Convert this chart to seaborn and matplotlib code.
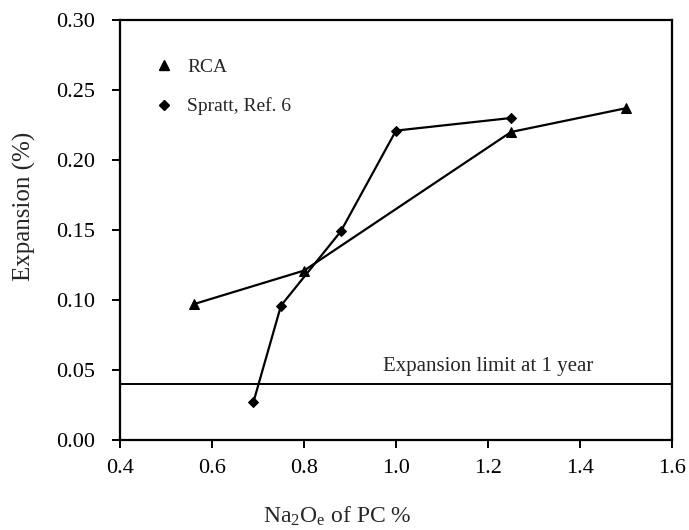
import matplotlib
matplotlib.use("Agg")
import matplotlib.pyplot as plt
from matplotlib.lines import Line2D
import seaborn as sns
import pandas as pd

# RCA series
rca_na2o = [0.56, 0.80, 1.25, 1.50]
rca_expansion = [0.097, 0.121, 0.220, 0.237]

# Spratt, Ref. 6 series
spratt_na2o = [0.69, 0.75, 0.88, 1.00, 1.25]
spratt_expansion = [0.027, 0.096, 0.149, 0.221, 0.230]

expansion_limit = 0.04
x_ticks = [0.4, 0.6, 0.8, 1.0, 1.2, 1.4, 1.6]
y_ticks = [0.00, 0.05, 0.10, 0.15, 0.20, 0.25, 0.30]

sns.set_theme(style="ticks")
plt.rcParams["font.family"] = ["Liberation Serif", "DejaVu Serif"]
plt.rcParams["mathtext.fontset"] = "custom"
plt.rcParams["mathtext.rm"] = "Liberation Serif"
plt.rcParams["mathtext.it"] = "Liberation Serif"

rca = pd.DataFrame({"x": rca_na2o, "y": rca_expansion})
spratt = pd.DataFrame({"x": spratt_na2o, "y": spratt_expansion})

fig = plt.figure(figsize=(6.89, 5.30), dpi=100)
ax = fig.add_axes([120 / 689, 90 / 530, 552 / 689, 420 / 530])

sns.lineplot(data=rca, x="x", y="y", ax=ax, color="black", linewidth=1.6,
             marker="^", markersize=7, markeredgecolor="black")
sns.lineplot(data=spratt, x="x", y="y", ax=ax, color="black", linewidth=1.6,
             marker="D", markersize=5, markeredgecolor="black")

ax.axhline(expansion_limit, color="black", linewidth=1.4)
ax.text(1.20, expansion_limit + 0.006, "Expansion limit at 1 year",
        ha="center", va="bottom", fontsize=15)

ax.set_xlim(0.4, 1.6)
ax.set_ylim(0.0, 0.30)
ax.set_xticks(x_ticks)
ax.set_xticklabels([f"{v:.1f}" for v in x_ticks])
ax.set_yticks(y_ticks)
ax.set_yticklabels([f"{v:.2f}" for v in y_ticks])
ax.tick_params(axis="both", direction="out", length=6, width=1.4,
               labelsize=16, color="black", labelcolor="black")
ax.tick_params(axis="y", pad=12)
ax.tick_params(axis="x", pad=8)
for s in ax.spines.values():
    s.set_visible(True)
    s.set_color("black")
    s.set_linewidth(1.6)

ax.set_xlabel(r"Na$_2$O$_\mathrm{e}$ of PC %", fontsize=17)
ax.set_ylabel("Expansion (%)", fontsize=18)
ax.xaxis.set_label_coords(0.393, -0.155)
ax.yaxis.set_label_coords(-0.152, 0.557)

handles = [
    Line2D([], [], color="black", linestyle="none", marker="^", markersize=7),
    Line2D([], [], color="black", linestyle="none", marker="D", markersize=5),
]
ax.legend(handles, ["RCA", "Spratt, Ref. 6"], loc="upper left",
          bbox_to_anchor=(0.03, 0.95), frameon=False, fontsize=14,
          handlelength=1.0, labelspacing=1.1, handletextpad=0.7)

fig.savefig("out.png", dpi=100)
